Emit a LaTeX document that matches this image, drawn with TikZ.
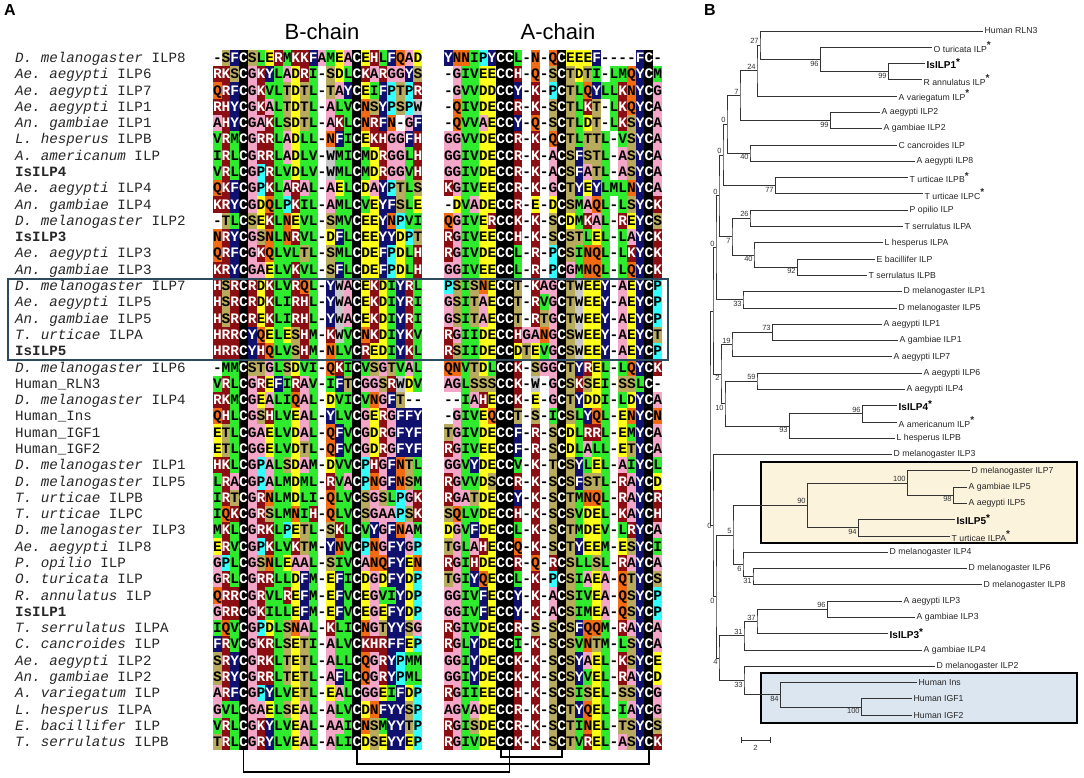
\documentclass[tikz,border=0pt]{standalone}
\usepackage{fontspec}
\setmainfont{Liberation Sans}
\setmonofont{Liberation Mono}
\usetikzlibrary{calc}

\definecolor{resPink}{HTML}{F4A6C9}
\definecolor{resGreen}{HTML}{2EEB2E}
\definecolor{resYellow}{HTML}{FFFF1A}
\definecolor{resOlive}{HTML}{B9AB5E}
\definecolor{resMaroon}{HTML}{8B0E12}
\definecolor{resNavy}{HTML}{10106E}
\definecolor{resCyan}{HTML}{33FFFF}
\definecolor{resOrange}{HTML}{F26A12}
\definecolor{resGray}{HTML}{C8C8C8}
\definecolor{frameBlue}{HTML}{2E4A5E}
\definecolor{clanYellow}{HTML}{FBF3DC}
\definecolor{clanBlue}{HTML}{DCE6F0}

% Residue colours: letter, background, text.
\newcommand\rescolor[3]{%
  \expandafter\def\csname resbg@#1\endcsname{#2}%
  \expandafter\def\csname resfg@#1\endcsname{#3}}
\rescolor{A}{resPink}{black}
\rescolor{G}{resPink}{black}
\rescolor{I}{resGreen}{black}
\rescolor{L}{resGreen}{black}
\rescolor{V}{resGreen}{black}
\rescolor{M}{resGreen}{black}
\rescolor{D}{resYellow}{black}
\rescolor{E}{resYellow}{black}
\rescolor{S}{resOlive}{black}
\rescolor{T}{resOlive}{black}
\rescolor{N}{resOrange}{black}
\rescolor{Q}{resOrange}{black}
\rescolor{P}{resCyan}{black}
\rescolor{W}{resGray}{black}
\rescolor{K}{resMaroon}{white}
\rescolor{R}{resMaroon}{white}
\rescolor{H}{resMaroon}{white}
\rescolor{F}{resNavy}{white}
\rescolor{Y}{resNavy}{white}
\rescolor{C}{black}{white}
\rescolor{-}{white}{black}

% One chain of a row: y, centre of first cell, residues.
\newcommand\chainrow[3]{%
  \def\celly{#1}\def\cellx{#2}\readres#3\relax}
\newcommand\readres[1]{%
  \ifx\relax#1\else
    \node[res, fill=\csname resbg@#1\endcsname,
      text=\csname resfg@#1\endcsname] at (\cellx,\celly) {#1};%
    \pgfmathsetmacro\cellx{\cellx+8.72}%
    \expandafter\readres
  \fi}

% One alignment row: index, taxon, B-chain, A-chain.
\newcommand\seqline[4]{%
  \pgfmathsetmacro\rowy{58+(#1-1)*16.29}%
  \node[taxon] (taxon#1) at (15,\rowy) {#2};%
  \chainrow{\rowy}{217.36}{#3}%
  \chainrow{\rowy}{448.36}{#4}}

% Asterisk of the tick sequences.
\newcommand\tipstar{\textsuperscript{\fontsize{10}{10}\bfseries *}}

% Tree tip: name, end of branch, index, style, label.
\newcommand\tip[5]{%
  \pgfmathsetmacro\tipy{31+(#3-1)*16.29}%
  \coordinate (#1) at (#2,\tipy);
  \node[#4] (#1-name) at (#1) {#5};}

% Tree clade: name, x, child, child, support, placement.
\newcommand\clade[6]{%
  \path let \p1 = (#3), \p2 = (#4) in ({#2pt},{(\y1+\y2)/2}) coordinate (#1);
  \draw[branch] (#3) -| (#1) |- (#4);
  \if\relax\detokenize{#5}\relax\else
    \node[support, #6] at (#1) {#5};
  \fi}

\begin{document}
\begin{tikzpicture}[
  x = 1pt, y = -1pt,
  % Panel letters.
  panel/.style = {font=\fontsize{16}{16}\bfseries\selectfont,
    anchor=north west, inner sep=0pt},
  % Chain headers.
  chain/.style = {font=\fontsize{22}{22}\selectfont, anchor=base},
  % Taxon names.
  taxon/.style = {font=\ttfamily\fontsize{14.2}{16}\selectfont,
    text=black!85, anchor=west, inner sep=0pt,
    text height=9pt, text depth=0pt},
  % Residues.
  res/.style = {font=\ttfamily\bfseries\fontsize{14.5}{16}\selectfont,
    minimum width=8.9pt, minimum height=16.5pt, inner sep=0pt,
    text height=9pt, text depth=0pt},
  % Disulfide bonds.
  bond/.style = {line width=1.6pt},
  % Boxes.
  frame/.style = {draw=frameBlue, line width=1.4pt},
  clanbox/.style = {draw=black, line width=1.6pt},
  % Tree.
  branch/.style = {draw=black!80, line width=0.8pt},
  leaf/.style = {font=\fontsize{8.7}{9}\selectfont, anchor=west,
    inner sep=1.5pt, text=black!85},
  isleaf/.style = {leaf, font=\fontsize{10}{10}\bfseries\selectfont,
    text=black},
  support/.style = {font=\fontsize{7.5}{8}\selectfont, inner sep=1.2pt,
    text=black!80}
  ]
  \useasboundingbox (0,0) rectangle (1084,778);

  % Panel letters and headers.
  \node[panel] (panelA) at (4,4) {A};
  \node[panel] (panelB) at (704,4) {B};
  \node[chain] (bchain) at (322,40) {B-chain};
  \node[chain] (achain) at (558,40) {A-chain};

  % Alignment.
  \seqline{1}{\textit{D. melanogaster} ILP8}{-SFCSLERMKKFAMEACEHLFQAD}{YNNIPYCCL-N-QCEEEF----FC-}
  \seqline{2}{\textit{Ae. aegypti} ILP6}{RKSCGKYLADRI-SDLCKARGGYS}{-GIVEECCH-Q-SCTDTI-LMQYCM}
  \seqline{3}{\textit{Ae. aegypti} ILP7}{QRFCGKVLTDTL-TAYCEIFPTPR}{-GVVDDCCY-K-PCTLQYLLKNYCG}
  \seqline{4}{\textit{Ae. aegypti} ILP1}{RHYCGKALTDTL-ALVCNSYPSPW}{-QIVDECCR-K-SCTLKT-LKQYCA}
  \seqline{5}{\textit{An. gambiae} ILP1}{AHYCGAKLSDTL-AKLCNRFN-GF}{-QVVAECCY-Q-SCTLDT-LKSYCA}
  \seqline{6}{\textit{L. hesperus} ILPB}{VRMCGRRLADLL-NFICEKHGGFH}{GGVVDECCR-K-QCTLTTL-VSYCA}
  \seqline{7}{\textit{A. americanum} ILP}{IRLCGRRLADLV-WMICMDRGGLH}{GGIVDECCR-K-ACSFSTL-ASYCA}
  \seqline{8}{\textbf{IsILP4}}{VRLCGPRLVDLV-WMLCMDRGGVH}{GGIVDECCR-K-ACSFATL-ASYCA}
  \seqline{9}{\textit{Ae. aegypti} ILP4}{QKFCGPKLARAL-AELCDAYPTLS}{KGIVEECCR-K-GCTYEYLMLNYCA}
  \seqline{10}{\textit{An. gambiae} ILP4}{KRYCGDQLPKIL-AMLCVEYFSLE}{-DVADECCR-E-DCSMAQL-LSYCK}
  \seqline{11}{\textit{D. melanogaster} ILP2}{-TLCSEKLNEVL-SMVCEEYNPVI}{QGIVERCCK-K-SCDMKAL-REYCS}
  \seqline{12}{\textbf{IsILP3}}{NRYCGSNLNRVL-DFLCEEYYDPT}{RGIVEECCH-K-SCSTLEL-LAYCK}
  \seqline{13}{\textit{Ae. aegypti} ILP3}{QRFCGKQLVLTL-SMLCDEFPDLH}{RGIVDECCL-R-PCSINQL-LKYCK}
  \seqline{14}{\textit{An. gambiae} ILP3}{KRYCGAELVKVL-SFLCDEFPDLH}{GGIVEECCL-R-PCGMNQL-LQYCK}
  \seqline{15}{\textit{D. melanogaster} ILP7}{HSRCRDKLVRQL-YWACEKDIYRL}{PSISNECCT-KAGCTWEEY-AEYCP}
  \seqline{16}{\textit{Ae. aegypti} ILP5}{HSRCRDKLIRHL-YWACEKDIYRI}{GSITAECCT-RVGCTWEEY-AEYCP}
  \seqline{17}{\textit{An. gambiae} ILP5}{HSRCREKLIRHL-YWACEKDIYRI}{GSITAECCT-RTGCTWEEY-AEYCP}
  \seqline{18}{\textit{T. urticae} ILPA}{HRRCYQELESHM-KWVCNKDIYKV}{RGIIDECCHGANGCSWEEY-AEYCT}
  \seqline{19}{\textbf{IsILP5}}{HRRCYHQLVSHM-NLVCREDIYKL}{RSIIDECCDTEVGCSWEEY-AEYCP}
  \seqline{20}{\textit{D. melanogaster} ILP6}{-MMCSTGLSDVI-QKICVSGTVAL}{QNVTDLCCK-SGGCTYREL-LQYCK}
  \seqline{21}{Human\_RLN3}{VRLCGREFIRAV-IFTCGGSRWDV}{AGLSSSCCK-W-GCSKSEI-SSLC-}
  \seqline{22}{\textit{D. melanogaster} ILP4}{RKMCGEALIQAL-DVICVNGFT--}{--IAHECCK-E-GCTYDDI-LDYCA}
  \seqline{23}{Human\_Ins}{QHLCGSHLVEAL-YLVCGERGFFY}{-GIVEQCCT-S-ICSLYQL-ENYCN}
  \seqline{24}{Human\_IGF1}{ETLCGAELVDAL-QFVCGDRGFYF}{TGIVDECCF-R-SCDLRRL-EMYCA}
  \seqline{25}{Human\_IGF2}{ETLCGGELVDTL-QFVCGDRGFYF}{RGIVEECCF-R-SCDLALL-ETYCA}
  \seqline{26}{\textit{D. melanogaster} ILP1}{HKLCGPALSDAM-DVVCPHGFNTL}{GGVYDECCV-K-TCSYLEL-AIYCL}
  \seqline{27}{\textit{D. melanogaster} ILP5}{LRACGPALMDML-RVACPNGFNSM}{RGVVDSCCR-K-SCSFSTL-RAYCD}
  \seqline{28}{\textit{T. urticae} ILPB}{IRTCGRNLMDLI-QLVCSGSLPGK}{RGATDECCY-K-SCTMNQL-RAYCR}
  \seqline{29}{\textit{T. urticae} ILPC}{IQKCGRSLMNIH-QLVCSGAAPSK}{SQLVDECCH-K-SCSVDEL-KAYCH}
  \seqline{30}{\textit{D. melanogaster} ILP3}{MKLCGRKLPETL-SKLCVYGFNAM}{DGVFDECCL-K-SCTMDEV-LRYCA}
  \seqline{31}{\textit{Ae. aegypti} ILP8}{ERVCGPKLVKTM-YNVCPNGFYGP}{TGLAHECCQ-K-SCTYEEM-ESYCI}
  \seqline{32}{\textit{P. opilio} ILP}{GPLCGSNLEAAL-SIVCANQFYEN}{RGIHDECCR-Q-RCSLLSL-RAYCA}
  \seqline{33}{\textit{O. turicata} ILP}{GRLCGRRLLDFM-EFICDGDFYDP}{TGIYQECCL-K-PCSIAEA-QTYCS}
  \seqline{34}{\textit{R. annulatus} ILP}{QRRCGRVLREFM-EFVCEGVIYDP}{GGIVFECCY-K-ACSIVEA-QSYCP}
  \seqline{35}{\textbf{IsILP1}}{GRRCGKILLEFM-EFVCEGEFYDP}{GGIVFECCY-K-ACSIMEA-QSYCP}
  \seqline{36}{\textit{T. serrulatus} ILPA}{IQVCGPDLSNAL-KLICNGTYYSG}{RGIVDECCR-S-SCSFQQM-RAYCA}
  \seqline{37}{\textit{C. cancroides} ILP}{FRVCGKRLSETI-ALVCKHRFFEP}{RGLYDECCI-K-SCSVNTM-LSYCA}
  \seqline{38}{\textit{Ae. aegypti} ILP2}{SRYCGRKLTETL-ALLCQGRYPMM}{GGIYDECCK-K-SCSYAEL-KSYCE}
  \seqline{39}{\textit{An. gambiae} ILP2}{SRYCGRRLTETL-AFLCQGRYPML}{GGIYDECCK-K-SCSYVEL-RAYCD}
  \seqline{40}{\textit{A. variegatum} ILP}{ARFCGPYLVETL-EALCGGEIFDP}{RGIIEECCH-K-SCSISEL-SSYCG}
  \seqline{41}{\textit{L. hesperus} ILPA}{GVLCGAELSEAL-ALVCDNFYYSP}{AGVADECCR-K-SCTYQEL-IAYCG}
  \seqline{42}{\textit{E. bacillifer} ILP}{VRLCGKYLVEAL-AAICNSMYYTP}{RGISDECCR-K-SCTINEL-TSYCS}
  \seqline{43}{\textit{T. serrulatus} ILPB}{TRLCGRYLVEAL-ALICDSEYYEP}{RGIVDECCK-K-SCTVREL-ASYCK}

  % Box round the ILP5 rows.
  \draw[frame] (8,279) rectangle (668,360);

  % Disulfide bonds.
  \coordinate (bCys1) at (243.5,750.3);
  \coordinate (bCys2) at (356.9,750.3);
  \coordinate (aCys1) at (500.7,750.3);
  \coordinate (aCys2) at (509.4,750.3);
  \coordinate (aCys3) at (561.7,750.3);
  \coordinate (aCys4) at (648.9,750.3);
  \draw[bond] (bCys1) -- ++(0,21.7) -| (aCys2);
  \draw[bond] (bCys2) -- ++(0,13.7) -| (aCys4);
  \draw[bond] (aCys1) -- ++(0,6.7) -| (aCys3);

  % Clade boxes.
  \draw[clanbox, fill=clanYellow] (761,462) rectangle (1077,543);
  \draw[clanbox, fill=clanBlue] (761,673) rectangle (1077,723);

  % Tips.
  \tip{t1}{983}{1}{leaf}{Human RLN3}
  \tip{t2}{932}{2}{leaf}{O turicata ILP\tipstar}
  \tip{t3}{925}{3}{isleaf}{IsILP1\tipstar}
  \tip{t4}{922}{4}{leaf}{R annulatus ILP\tipstar}
  \tip{t5}{897}{5}{leaf}{A variegatum ILP\tipstar}
  \tip{t6}{880}{6}{leaf}{A aegypti ILP2}
  \tip{t7}{882}{7}{leaf}{A gambiae ILP2}
  \tip{t8}{897}{8}{leaf}{C cancroides ILP}
  \tip{t9}{915}{9}{leaf}{A aegypti ILP8}
  \tip{t10}{908}{10}{leaf}{T urticae ILPB\tipstar}
  \tip{t11}{923}{11}{leaf}{T urticae ILPC\tipstar}
  \tip{t12}{908}{12}{leaf}{P opilio ILP}
  \tip{t13}{903}{13}{leaf}{T serrulatus ILPA}
  \tip{t14}{883}{14}{leaf}{L hesperus ILPA}
  \tip{t15}{875}{15}{leaf}{E bacillifer ILP}
  \tip{t16}{867}{16}{leaf}{T serrulatus ILPB}
  \tip{t17}{902}{17}{leaf}{D melanogaster ILP1}
  \tip{t18}{897}{18}{leaf}{D melanogaster ILP5}
  \tip{t19}{882}{19}{leaf}{A aegypti ILP1}
  \tip{t20}{898}{20}{leaf}{A gambiae ILP1}
  \tip{t21}{892}{21}{leaf}{A aegypti ILP7}
  \tip{t22}{922}{22}{leaf}{A aegypti ILP6}
  \tip{t23}{905}{23}{leaf}{A aegypti ILP4}
  \tip{t24}{897}{24}{isleaf}{IsILP4\tipstar}
  \tip{t25}{897}{25}{leaf}{A americanum ILP\tipstar}
  \tip{t26}{895}{26}{leaf}{L hesperus ILPB}
  \tip{t27}{892}{27}{leaf}{D melanogaster ILP3}
  \tip{t28}{970}{28}{leaf}{D melanogaster ILP7}
  \tip{t29}{967}{29}{leaf}{A gambiae ILP5}
  \tip{t30}{967}{30}{leaf}{A aegypti ILP5}
  \tip{t31}{955}{31}{isleaf}{IsILP5\tipstar}
  \tip{t32}{950}{32}{leaf}{T urticae ILPA\tipstar}
  \tip{t33}{888}{33}{leaf}{D melanogaster ILP4}
  \tip{t34}{967}{34}{leaf}{D melanogaster ILP6}
  \tip{t35}{982}{35}{leaf}{D melanogaster ILP8}
  \tip{t36}{902}{36}{leaf}{A aegypti ILP3}
  \tip{t37}{915}{37}{leaf}{A gambiae ILP3}
  \tip{t38}{888}{38}{isleaf}{IsILP3\tipstar}
  \tip{t39}{922}{39}{leaf}{A gambiae ILP4}
  \tip{t40}{935}{40}{leaf}{D melanogaster ILP2}
  \tip{t41}{917}{41}{leaf}{Human Ins}
  \tip{t42}{912}{42}{leaf}{Human IGF1}
  \tip{t43}{912}{43}{leaf}{Human IGF2}

  % Clades.
  \clade{n99a}{888}{t3}{t4}{99}{below left}
  \clade{n96a}{820}{t2}{n99a}{96}{below left}
  \clade{n27}{760}{t1}{n96a}{27}{above left}
  \clade{n24}{757}{n27}{t5}{24}{above left}
  \clade{n99b}{830}{t6}{t7}{99}{below left}
  \clade{n7a}{740}{n24}{n99b}{7}{above left}
  \clade{n40a}{750}{t8}{t9}{40}{below left}
  \clade{n0a}{727}{n7a}{n40a}{0}{above left}
  \clade{n77}{775}{t10}{t11}{77}{below left}
  \clade{n0b}{723}{n0a}{n77}{0}{above left}
  \clade{n26}{750}{t12}{t13}{26}{above left}
  \clade{n92}{797}{t15}{t16}{92}{below left}
  \clade{n40b}{754}{t14}{n92}{40}{below left}
  \clade{n7b}{732}{n26}{n40b}{7}{below left}
  \clade{n0d}{719}{n0b}{n7b}{0}{above left}
  \clade{n33a}{743}{t17}{t18}{33}{below left}
  \clade{n0e}{716}{n0d}{n33a}{0}{above left}
  \clade{n73}{772}{t19}{t20}{73}{above left}
  \clade{n19}{732}{n73}{t21}{19}{above left}
  \clade{n59}{757}{t22}{t23}{59}{above left}
  \clade{n96b}{862}{t24}{t25}{96}{above left}
  \clade{n93}{789}{n96b}{t26}{93}{below left}
  \clade{n10}{725}{n59}{n93}{10}{below left}
  \clade{n2}{721}{n19}{n10}{2}{below left}
  \clade{nQ}{713}{n0e}{n2}{}{}
  \clade{n98}{953}{t29}{t30}{98}{below left}
  \clade{n100a}{907}{t28}{n98}{100}{above left}
  \clade{n94}{858}{t31}{t32}{94}{below left}
  \clade{n90}{807}{n100a}{n94}{90}{above left}
  \clade{n31a}{753}{t34}{t35}{31}{below left}
  \clade{n6}{743}{t33}{n31a}{6}{below left}
  \clade{n5}{733}{n90}{n6}{5}{above left}
  \clade{n96c}{827}{t36}{t37}{96}{above left}
  \clade{n37}{757}{n96c}{t38}{37}{above left}
  \clade{n31b}{744}{n37}{t39}{31}{above left}
  \clade{n100b}{861}{t42}{t43}{100}{below left}
  \clade{n84}{780}{t41}{n100b}{84}{below left}
  \clade{n33b}{744}{t40}{n84}{33}{below left}
  \clade{n4}{719}{n31b}{n33b}{4}{below left}
  \clade{n0g}{716}{n5}{n4}{0}{below left}
  \clade{nV}{713}{t27}{n0g}{0}{left}
  \clade{root}{710}{nQ}{nV}{}{}

  % Scale bar.
  \coordinate (sbL) at (741,740);
  \coordinate (sbR) at (770,740);
  \draw[branch] (sbL) -- (sbR);
  \draw[branch] (sbL) ++(0,-3) -- ++(0,6);
  \draw[branch] (sbR) ++(0,-3) -- ++(0,6);
  \node[support, below] (sblabel) at ($(sbL)!0.5!(sbR)+(0,4)$) {2};
\end{tikzpicture}
\end{document}
